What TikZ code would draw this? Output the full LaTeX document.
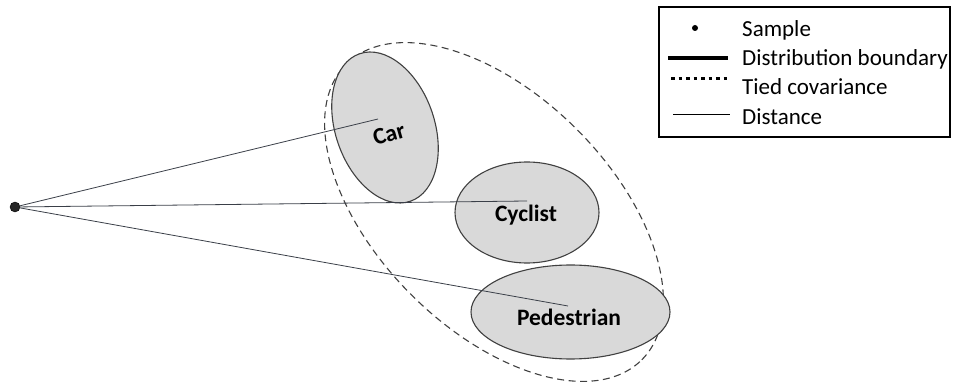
\documentclass[tikz,border=0pt]{standalone}
\usepackage{fontspec}
\setmainfont{Carlito}
\usetikzlibrary{shapes.geometric}
\definecolor{edgegray}{HTML}{404040}
\definecolor{fillgray}{HTML}{D9D9D9}
\definecolor{linegray}{HTML}{3A3F48}
\begin{document}
\begin{tikzpicture}[
    x=1pt, y=1pt,
    every node/.style={align=center, font=\fontsize{23}{26}\selectfont},
    class ellipse/.style={draw=edgegray, fill=fillgray, ellipse, line width=1.1pt, inner sep=0pt},
    tied ellipse/.style={draw=edgegray, ellipse, line width=1.1pt, dash pattern=on 7pt off 4.5pt, inner sep=0pt},
    class label/.style={font=\fontsize{23.5}{26}\selectfont\bfseries},
    distance line/.style={draw=linegray, line width=0.8pt},
    legend text/.style={anchor=west, inner sep=0pt},
    ]
\useasboundingbox (0,0) rectangle (953,383);
\node[tied ellipse, minimum width=418, minimum height=234, rotate=-45] (tied) at (494,171) {};
\node[class ellipse, minimum width=99, minimum height=156, rotate=19] (car) at (385,255.5) {};
\node[class ellipse, minimum width=144, minimum height=101] (cyclist) at (527,170.5) {};
\node[class ellipse, minimum width=199, minimum height=94] (pedestrian) at (570.5,71) {};
\node[circle, fill=black!85, draw=black, inner sep=0pt, minimum size=10] (sample) at (15,176) {};
\coordinate (carEnd) at (378,264);
\coordinate (cyclistEnd) at (527,182);
\coordinate (pedestrianEnd) at (568,77);
\draw[distance line] (sample) -- (carEnd);
\draw[distance line] (sample) -- (cyclistEnd);
\draw[distance line] (sample) -- (pedestrianEnd);
\node[class label, rotate=16] (carLabel) at (389,249) {Car};
\node[class label] (cyclistLabel) at (526,168) {Cyclist};
\node[class label] (pedestrianLabel) at (569,66) {Pedestrian};
\node[draw=black, line width=1.2pt, minimum width=291, minimum height=130, inner sep=0pt] (legend) at (804.5,311) {};
\node[circle, fill=black, inner sep=0pt, minimum size=6] (sampleKey) at (695,355) {};
\coordinate (boundaryA) at (668,325);
\coordinate (boundaryB) at (728,325);
\coordinate (tiedA) at (671,304);
\coordinate (tiedB) at (729,304);
\coordinate (distA) at (673,269);
\coordinate (distB) at (730,269);
\draw[line width=3.2pt] (boundaryA) -- (boundaryB);
\draw[line width=3pt, dash pattern=on 3.5pt off 4pt] (tiedA) -- (tiedB);
\draw[line width=0.8pt] (distA) -- (distB);
\node[legend text] (sampleText) at (742,353) {Sample};
\node[legend text] (boundaryText) at (742,324) {Distribution boundary};
\node[legend text] (tiedText) at (742,296) {Tied covariance};
\node[legend text] (distText) at (742,266) {Distance};
\end{tikzpicture}
\end{document}
